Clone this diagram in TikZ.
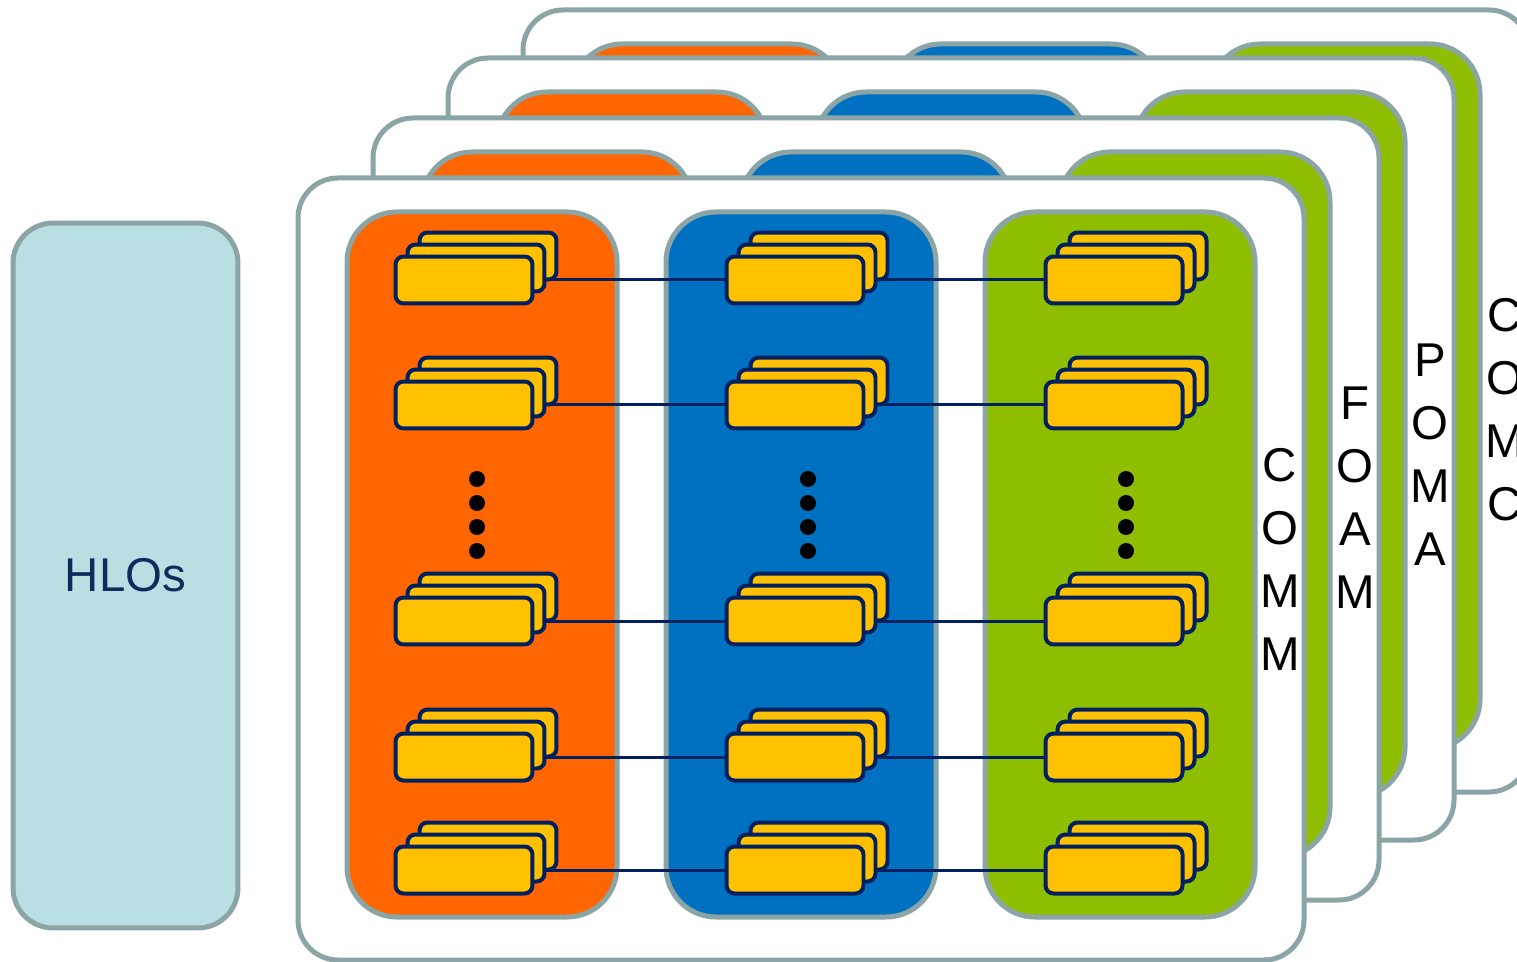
\documentclass[tikz,border=0pt]{standalone}
\usepackage{fontspec}
\setmainfont{Liberation Sans}
\usepackage{xcolor}
\definecolor{panelgray}{HTML}{8BA4A6}
\definecolor{lanered}{HTML}{FF6600}
\definecolor{laneblue}{HTML}{0070C0}
\definecolor{lanegreen}{HTML}{8FBE00}
\definecolor{cardfill}{HTML}{FFC000}
\definecolor{cardline}{HTML}{002060}
\definecolor{hlofill}{HTML}{BADFE2}
\definecolor{hlotext}{HTML}{102A5E}

\tikzset{
    panel/.style={draw=panelgray, line width=0.1cm, fill=white, rounded corners=0.8cm},
    lane/.style={draw=panelgray, line width=0.1cm, rounded corners=1cm},
    card/.style={draw=cardline, line width=0.08cm, fill=cardfill, rounded corners=0.16cm,
        minimum width=2.74cm, minimum height=0.94cm, inner sep=0pt},
    link/.style={draw=cardline, line width=0.06cm},
    tag/.style={font=\fontsize{27}{30}\selectfont, inner sep=0pt}
}

\begin{document}
\begin{tikzpicture}[x=0.02cm, y=-0.02cm]

\clip (0,0) rectangle (1517,962);

% HLOs
\node[draw=panelgray, line width=0.1cm, fill=hlofill, rounded corners=0.8cm,
    minimum width=4.5cm, minimum height=14.1cm, text=hlotext,
    font=\fontsize{27}{30}\selectfont] (hlo) at (125.5,575.5) {HLOs};

% stacked panels, back to front
\foreach \dx/\dy/\ly/\word in {225/-168/483/{C,O,M,C}, 150/-120/480/{P,O,M,A},
                                75/-60/463/{F,O,A,M}, 0/0/465/{C,O,M,M}} {
\begin{scope}[shift={(\dx,\dy)}]
    \draw[panel] (298,178) rectangle (1304,960);
    \draw[lane, fill=lanered] (347,212) rectangle (617,917);
    \draw[lane, fill=laneblue] (666,212) rectangle (936,917);
    \draw[lane, fill=lanegreen] (985,212) rectangle (1255,917);
    \foreach \ch [count=\i from 0] in \word {
        \node[tag] (tag-\dx-\i) at (1280,\ly+63*\i) {\ch};
    }
\end{scope}
}

% rows of cards
\foreach \r/\yy in {1/280,2/405,3/621,4/757,5/870} {
    \coordinate (o\r) at (464,\yy);
    \coordinate (b\r) at (795,\yy);
    \coordinate (g\r) at (1114,\yy);
    \draw[link] (o\r) -- (b\r) -- (g\r);
}
\foreach \c in {o,b,g} {
    \foreach \r in {1,...,5} {
        \node[card] (\c\r-back) at ([shift={(24,-24)}]\c\r) {};
        \node[card] (\c\r-mid) at ([shift={(12,-12)}]\c\r) {};
        \node[card] (\c\r-card) at (\c\r) {};
    }
}

% dots
\foreach \cx in {477,808,1126} {
    \foreach \yy in {479,503,527,551} {\fill (\cx,\yy) circle (0.16cm);}
}

\end{tikzpicture}
\end{document}
